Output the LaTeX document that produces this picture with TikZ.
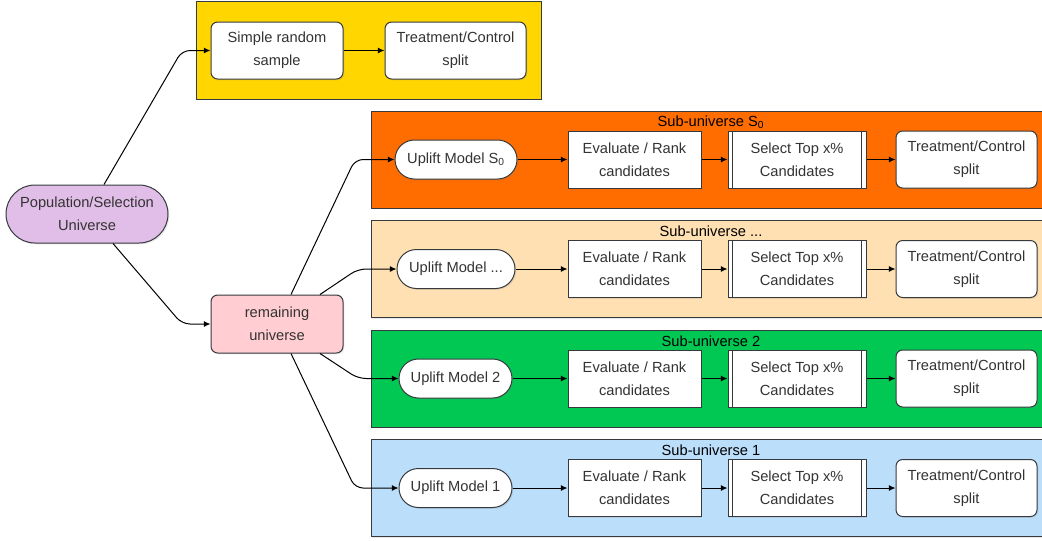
\documentclass[tikz,border=0pt]{standalone}
\usepackage{fontspec}
\setmainfont{Liberation Sans}
\usetikzlibrary{arrows.meta,shadows}
\definecolor{bd}{HTML}{36393D}
\definecolor{tx}{HTML}{333333}
\definecolor{cyel}{HTML}{FFD600}
\definecolor{corg}{HTML}{FF6D00}
\definecolor{cpch}{HTML}{FFE0B2}
\definecolor{cgrn}{HTML}{00C853}
\definecolor{cblu}{HTML}{BBDEFB}
\definecolor{clil}{HTML}{E1BEE7}
\definecolor{cpnk}{HTML}{FFCDD2}
\begin{document}
\begin{tikzpicture}[x=0.75pt,y=-0.75pt,
  shd/.style={drop shadow={opacity=0.18,shadow xshift=1pt,shadow yshift=-1pt}},
  base/.style={draw=bd,line width=0.75pt,align=center,text=tx,inner sep=0pt,
    font=\fontsize{11}{17.25}\selectfont,shd},
  rbox/.style={base,fill=white,rounded corners=5pt,minimum width=141*0.75pt,minimum height=57*0.75pt},
  sbox/.style={base,fill=white,minimum width=133*0.75pt,minimum height=57*0.75pt},
  pbox/.style={base,fill=white,minimum width=138*0.75pt,minimum height=57*0.75pt},
  ubox/.style={base,fill=white,rounded corners=14.6pt,minimum height=39*0.75pt},
  cont/.style={draw=bd,line width=0.75pt,shd},
  lbl/.style={text=black,inner sep=0pt,font=\fontsize{11}{13}\selectfont},
  flow/.style={draw=black,line width=0.75pt,-{Latex[length=5pt,width=4.5pt]}},
  conn/.style={flow,rounded corners=6pt}]
\useasboundingbox (0,0) rectangle (1042,540);
\clip (0,0) rectangle (1042,540);

% yellow container
\draw[cont,fill=cyel] (196,1) rectangle (541,99);
\node[rbox,minimum width=132*0.75pt] (srs) at (277,50.5) {Simple random\\sample};
\node[rbox] (tcy) at (455.5,50.5) {Treatment/Control\\split};
\draw[flow] (srs) -- (tcy);

% row containers
\draw[cont,fill=corg] (371,111) rectangle (1052,208);
\draw[cont,fill=cpch] (371,220.5) rectangle (1052,317.5);
\draw[cont,fill=cgrn] (371,330) rectangle (1052,427);
\draw[cont,fill=cblu] (371,439.5) rectangle (1052,536.5);

\node[lbl] (l0) at (711,122) {Sub-universe S\textsubscript{0}};
\node[lbl] (l1) at (711,231.5) {Sub-universe ...};
\node[lbl] (l2) at (711,341) {Sub-universe 2};
\node[lbl] (l3) at (711,450.5) {Sub-universe 1};

% row 0
\node[ubox,minimum width=122*0.75pt] (u0) at (456,159.5) {Uplift Model S\textsubscript{0}};
\node[sbox] (e0) at (634.5,159.5) {Evaluate / Rank\\candidates};
\node[pbox] (s0) at (797,159.5) {Select Top x\%\\Candidates};
\node[rbox] (t0) at (966.5,159.5) {Treatment/Control\\split};
% row 1
\node[ubox,minimum width=118*0.75pt] (u1) at (456,269) {Uplift Model ...};
\node[sbox] (e1) at (634.5,269) {Evaluate / Rank\\candidates};
\node[pbox] (s1) at (797,269) {Select Top x\%\\Candidates};
\node[rbox] (t1) at (966.5,269) {Treatment/Control\\split};
% row 2
\node[ubox,minimum width=113*0.75pt] (u2) at (455.5,378.5) {Uplift Model 2};
\node[sbox] (e2) at (634.5,378.5) {Evaluate / Rank\\candidates};
\node[pbox] (s2) at (797,378.5) {Select Top x\%\\Candidates};
\node[rbox] (t2) at (966.5,378.5) {Treatment/Control\\split};
% row 3
\node[ubox,minimum width=113*0.75pt] (u3) at (455.5,488) {Uplift Model 1};
\node[sbox] (e3) at (634.5,488) {Evaluate / Rank\\candidates};
\node[pbox] (s3) at (797,488) {Select Top x\%\\Candidates};
\node[rbox] (t3) at (966.5,488) {Treatment/Control\\split};

\foreach \i in {0,1,2,3}{
  \draw[bd,line width=0.75pt] ([xshift=5*0.75pt]s\i.north west) -- ([xshift=5*0.75pt]s\i.south west);
  \draw[bd,line width=0.75pt] ([xshift=-5*0.75pt]s\i.north east) -- ([xshift=-5*0.75pt]s\i.south east);
  \draw[flow] (u\i) -- (e\i);
  \draw[flow] (e\i) -- (s\i);
  \draw[flow] (s\i) -- (t\i);
}

% left nodes
\node[base,fill=clil,rounded corners=21.7pt,minimum width=162*0.75pt,minimum height=58*0.75pt] (pop) at (87,214) {Population/Selection\\Universe};
\node[base,fill=cpnk,rounded corners=5pt,minimum width=132*0.75pt,minimum height=58*0.75pt] (rem) at (277,324) {remaining\\universe};

\coordinate (c1) at (182,50.5);
\coordinate (c2) at (182,324);
\coordinate (c3) at (355,159.5);
\coordinate (c4) at (358,269);
\coordinate (c5) at (358,378.5);
\coordinate (c6) at (355,488);

\draw[conn] (pop.north -| 104,0) -- (c1) -- (srs.west);
\draw[conn] (pop.south -| 113,0) -- (c2) -- (rem.west);
\draw[conn] (rem.north -| 291,0) -- (c3) -- (u0.west);
\draw[conn] (rem.north -| 320,0) -- (c4) -- (u1.west);
\draw[conn] (rem.south -| 320,0) -- (c5) -- (u2.west);
\draw[conn] (rem.south -| 291,0) -- (c6) -- (u3.west);
\end{tikzpicture}
\end{document}
